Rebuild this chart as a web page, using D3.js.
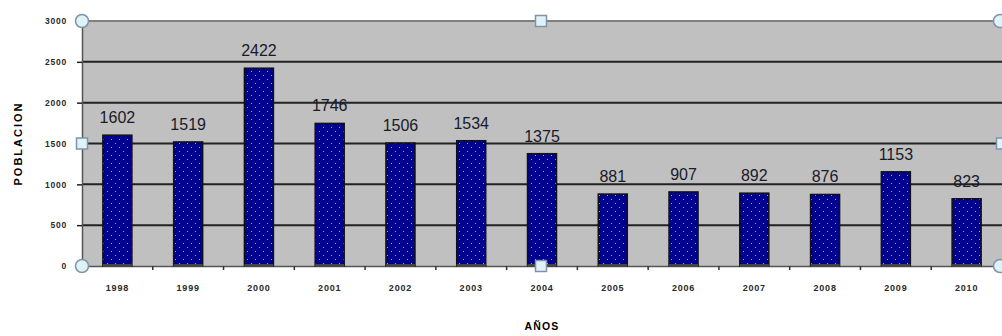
<!DOCTYPE html>
<html>
<head>
<meta charset="utf-8">
<script src="https://cdn.jsdelivr.net/npm/d3@7"></script>
<style>
  body { margin: 0; background: #fff; }
  svg { display: block; }
  .ytick text { font-family: Arial, "Liberation Sans", sans-serif; font-size: 8.5px; font-weight: bold; fill: #2a2a2a; letter-spacing: 0.8px; }
  .xtick text { font-family: Arial, "Liberation Sans", sans-serif; font-size: 9px; font-weight: bold; fill: #2a2a2a; letter-spacing: 0.8px; }
</style>
</head>
<body>
<div id="chart"></div>
<script>
const years = ['1998', '1999', '2000', '2001', '2002', '2003', '2004', '2005', '2006', '2007', '2008', '2009', '2010'];
const poblacion = [1602, 1519, 2422, 1746, 1506, 1534, 1375, 881, 907, 892, 876, 1153, 823];
const yTicks = [0, 500, 1000, 1500, 2000, 2500, 3000];

const W = 1002, H = 336;
const margin = { top: 21, right: 0, bottom: 70, left: 82 };
const plotW = W - margin.left - margin.right;
const plotH = H - margin.top - margin.bottom;

const svg = d3.select('#chart').append('svg')
  .attr('width', W)
  .attr('height', H);

const defs = svg.append('defs');
const pat = defs.append('pattern')
  .attr('id', 'dots')
  .attr('patternUnits', 'userSpaceOnUse')
  .attr('width', 8).attr('height', 8);
pat.append('rect').attr('width', 8).attr('height', 8).attr('fill', '#000090');
pat.append('rect').attr('x', 1).attr('y', 2).attr('width', 1).attr('height', 1).attr('fill', '#9aa0ff');
pat.append('rect').attr('x', 5).attr('y', 6).attr('width', 1).attr('height', 1).attr('fill', '#9aa0ff');

const x = d3.scaleBand().domain(years).range([0, plotW]).paddingInner(0.59).paddingOuter(0.295);
const y = d3.scaleLinear().domain([0, 3000]).range([plotH, 0]);

const chart = svg.append('g')
  .attr('transform', `translate(${margin.left}, ${margin.top})`);

// plot background
chart.append('rect')
  .attr('width', plotW).attr('height', plotH)
  .attr('fill', '#c0c0c0');

// gridlines
chart.selectAll('.grid')
  .data(yTicks.filter(d => d > 0))
  .enter().append('line')
  .attr('class', 'grid')
  .attr('x1', 0).attr('x2', plotW)
  .attr('y1', d => y(d)).attr('y2', d => y(d))
  .attr('stroke', d => d === 3000 ? '#808080' : '#222')
  .attr('stroke-width', 2);

// y axis
const yAxis = chart.append('g')
  .attr('class', 'ytick')
  .call(d3.axisLeft(y).tickValues(yTicks).tickFormat(d3.format('d')).tickSize(5).tickPadding(10));
yAxis.select('.domain').attr('stroke', '#555').attr('stroke-width', 1.5);
yAxis.selectAll('line').attr('stroke', '#222').attr('stroke-width', 1.5);

// x axis with ticks between categories
const xAxis = chart.append('g')
  .attr('class', 'xtick')
  .attr('transform', `translate(0, ${plotH})`)
  .call(d3.axisBottom(x).tickSize(0).tickPadding(19));
xAxis.select('.domain').attr('stroke', '#555').attr('stroke-width', 1.5);

chart.append('g').selectAll('line')
  .data(years.slice(1))
  .enter().append('line')
  .attr('x1', d => x(d) - x.step() * x.paddingInner() / 2)
  .attr('x2', d => x(d) - x.step() * x.paddingInner() / 2)
  .attr('y1', plotH).attr('y2', plotH + 4)
  .attr('stroke', '#333').attr('stroke-width', 1.5);

// bars
chart.selectAll('.bar')
  .data(poblacion)
  .enter().append('rect')
  .attr('class', 'bar')
  .attr('x', (d, i) => x(years[i]))
  .attr('y', d => y(d))
  .attr('width', x.bandwidth())
  .attr('height', d => plotH - y(d))
  .attr('fill', 'url(#dots)')
  .attr('stroke', '#111')
  .attr('stroke-width', 1.5);

// base shadow
chart.selectAll('.base')
  .data(poblacion)
  .enter().append('rect')
  .attr('class', 'base')
  .attr('x', (d, i) => x(years[i]))
  .attr('y', plotH - 2)
  .attr('width', x.bandwidth())
  .attr('height', 3)
  .attr('fill', '#444');

// value labels
chart.selectAll('.val')
  .data(poblacion)
  .enter().append('text')
  .attr('class', 'val')
  .attr('x', (d, i) => x(years[i]) + x.bandwidth() / 2)
  .attr('y', d => y(d) - 12)
  .attr('text-anchor', 'middle')
  .attr('font-family', 'Arial, "Liberation Sans", sans-serif')
  .attr('font-size', 16)
  .attr('fill', '#1a1a2a')
  .text(d => d);

// axis titles
svg.append('text')
  .attr('x', margin.left + plotW / 2)
  .attr('y', 330)
  .attr('text-anchor', 'middle')
  .attr('font-family', 'Arial, "Liberation Sans", sans-serif')
  .attr('font-size', 10.5)
  .attr('font-weight', 'bold')
  .attr('letter-spacing', 1.2)
  .text('AÑOS');

svg.append('text')
  .attr('transform', `translate(22, ${margin.top + plotH / 2}) rotate(-90)`)
  .attr('text-anchor', 'middle')
  .attr('font-family', 'Arial, "Liberation Sans", sans-serif')
  .attr('font-size', 11)
  .attr('font-weight', 'bold')
  .attr('letter-spacing', 2)
  .text('POBLACION');

// selection handles
const handleFill = '#dff2f8', handleStroke = '#7f94a8';
const corners = [[0, 0], [0, plotH], [plotW - 2, plotH], [plotW - 2, 0]];
chart.selectAll('.hc')
  .data(corners)
  .enter().append('circle')
  .attr('cx', d => d[0]).attr('cy', d => d[1])
  .attr('r', 6.5)
  .attr('fill', handleFill).attr('stroke', handleStroke).attr('stroke-width', 1.5);
const mids = [[plotW / 2 - 1, 0], [0, plotH / 2], [plotW / 2 - 1, plotH], [plotW, plotH / 2]];
chart.selectAll('.hs')
  .data(mids)
  .enter().append('rect')
  .attr('x', d => d[0] - 5.5).attr('y', d => d[1] - 5.5)
  .attr('width', 11).attr('height', 11)
  .attr('fill', handleFill).attr('stroke', handleStroke).attr('stroke-width', 1.5);
</script>
</body>
</html>
